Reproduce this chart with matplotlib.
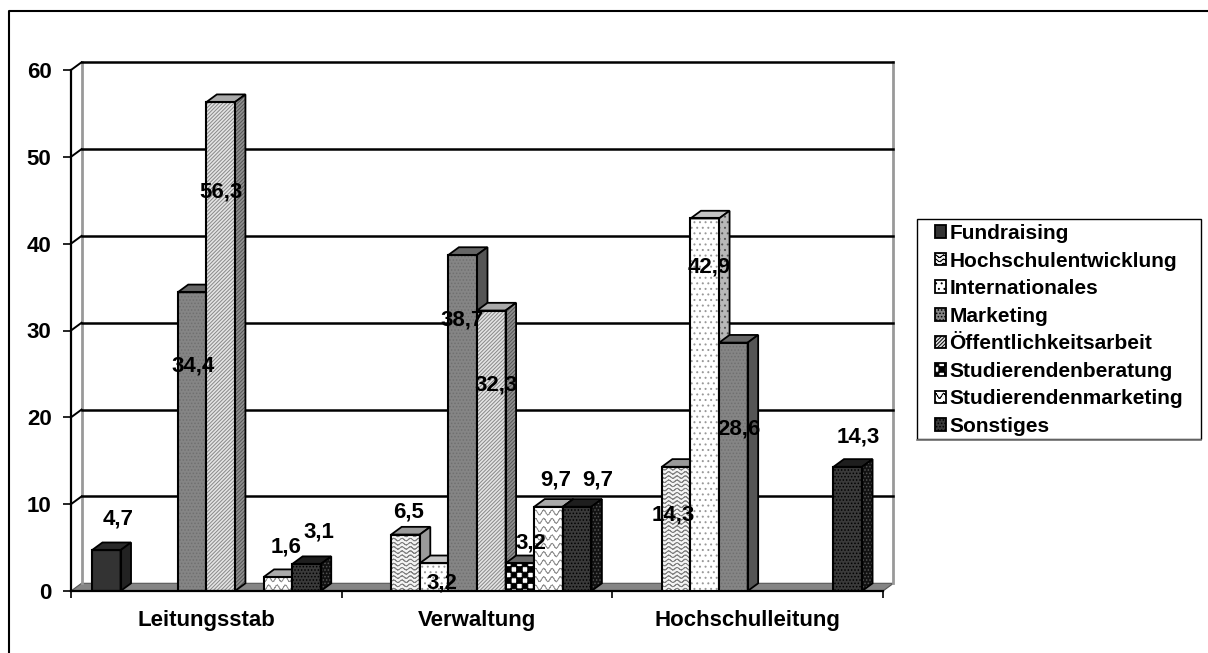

import warnings
import numpy as np
import matplotlib
matplotlib.use('Agg')
import matplotlib.pyplot as plt
import matplotlib.hatch as mhatch
from matplotlib.lines import Line2D
from matplotlib.patches import Patch, Polygon, Rectangle
from matplotlib.path import Path

warnings.filterwarnings('ignore')

W, H = 1208, 653
CATEGORIES = ['Leitungsstab', 'Verwaltung', 'Hochschulleitung']
YTICKS = [0, 10, 20, 30, 40, 50, 60]

Fundraising = [4.7, None, None]
Hochschulentwicklung = [None, 6.5, 14.3]
Internationales = [None, 3.2, 42.9]
Marketing = [34.4, 38.7, 28.6]
Oeffentlichkeitsarbeit = [56.3, 32.3, None]
Studierendenberatung = [None, 3.2, None]
Studierendenmarketing = [1.6, 9.7, None]
Sonstiges = [3.1, 9.7, 14.3]

SERIES_NAMES = ['Fundraising', 'Hochschulentwicklung', 'Internationales', 'Marketing',
                'Öffentlichkeitsarbeit', 'Studierendenberatung', 'Studierendenmarketing', 'Sonstiges']
SERIES_VALUES = [Fundraising, Hochschulentwicklung, Internationales, Marketing,
                 Oeffentlichkeitsarbeit, Studierendenberatung, Studierendenmarketing, Sonstiges]

# 面の色: (前面, 前面ハッチ, 上面, 側面, ハッチ記号)
STYLES = [
    ('#333333', '#333333', '#2a2a2a', '#222222', ''),
    ('#f4f4f4', '#808080', '#999999', '#9a9a9a', '~~~~'),
    ('#ffffff', '#999999', '#c4c4c4', '#b8b8b8', '...'),
    ('#858585', '#707070', '#666666', '#555555', '.....'),
    ('#e4e4e4', '#888888', '#aaaaaa', '#909090', '/////////'),
    ('#ffffff', '#000000', '#666666', '#444444', '@@@'),
    ('#ffffff', '#909090', '#aaaaaa', '#909090', '~~'),
    ('#3a3a3a', '#000000', '#1e1e1e', '#111111', '.....'),
]

# ラベルの位置 (棒の上端中央からのずれ, px)
LABEL_OFFSETS = [
    [(11.5, 31), None, None],
    [None, (3.5, 23), (-2.5, -48)],
    [None, (7.5, -20), (4, -49)],
    [(1.5, -74), (-1, -65), (5.5, -86)],
    [(0, -90), (4.5, -74), None],
    [None, (11, 20), None],
    [(8, 30), (7.5, 27), None],
    [(12.5, 32), (21, 27), (10.5, 30)],
]


class WaveHatch(mhatch.HatchPatternBase):
    # 波線のハッチ (線分に分けないと塗りつぶされる)
    SEGS = 80

    def __init__(self, hatch, density):
        self.rows = hatch.count('~') * density
        self.num_vertices = self.rows * self.SEGS * 2

    def set_vertices_and_codes(self, vertices, codes):
        if self.rows == 0:
            return
        x = np.linspace(0, 1, self.SEGS + 1)
        amp = 0.3 / self.rows
        i = 0
        for r in range(self.rows):
            y = (r + 0.5) / self.rows + amp * np.sin(x * 2 * np.pi * 12)
            for k in range(self.SEGS):
                vertices[i] = (x[k], y[k])
                vertices[i + 1] = (x[k + 1], y[k + 1])
                codes[i] = Path.MOVETO
                codes[i + 1] = Path.LINETO
                i += 2


class CheckerHatch(mhatch.HatchPatternBase):
    def __init__(self, hatch, density):
        self.n = hatch.count('@') * density
        self.cells = [(i, j) for i in range(self.n) for j in range(self.n) if (i + j) % 2 == 0]
        self.num_vertices = len(self.cells) * 5

    def set_vertices_and_codes(self, vertices, codes):
        if self.n == 0:
            return
        s = 1 / self.n
        for c, (i, j) in enumerate(self.cells):
            x, y = i * s, j * s
            vertices[c * 5:c * 5 + 5] = [(x, y), (x + s, y), (x + s, y + s), (x, y + s), (x, y)]
            codes[c * 5:c * 5 + 5] = [Path.MOVETO, Path.LINETO, Path.LINETO, Path.LINETO, Path.CLOSEPOLY]


mhatch._hatch_types.extend([WaveHatch, CheckerHatch])

plt.rcParams['font.family'] = ['Liberation Sans', 'DejaVu Sans']
plt.rcParams['font.weight'] = 'bold'
plt.rcParams['hatch.linewidth'] = 0.7
FS = 16


def fig_line(xs, ys, **kw):
    # 図全体の px 座標で線を引く
    fig.add_artist(Line2D([x / W for x in xs], [1 - y / H for y in ys], transform=fig.transFigure, **kw))


fig = plt.figure(figsize=(W / 100, H / 100), dpi=100)
# 外枠は左と上だけ
fig_line([9, 9, 1208], [653, 11, 11], color='black', lw=1.5)

# 前面の軸: x 71-883 px, y 70-591 px
ax = fig.add_axes([71 / W, 1 - 591 / H, 812 / W, 521 / H])
ax.set_xlim(0, 3)
ax.set_ylim(0, 60)
ax.patch.set_visible(False)
px_x = 3 / 812
px_y = 60 / 521
dx, dy = 10.5 * px_x, 7.7 * px_y

for s in ['top', 'right']:
    ax.spines[s].set_visible(False)
for s in ['left', 'bottom']:
    ax.spines[s].set_linewidth(1.6)
    ax.spines[s].set_zorder(30)
ax.set_yticks(YTICKS)
ax.set_yticklabels([str(v) for v in YTICKS], fontsize=FS, fontweight='bold')
ax.tick_params(axis='y', length=6, width=1.2, pad=8)
ax.set_xticks([0, 1, 2, 3])
ax.set_xticklabels([])
ax.tick_params(axis='x', length=5, width=1.2)
ax.set_xticks([0.5, 1.5, 2.5], minor=True)
ax.set_xticklabels(CATEGORIES, minor=True, fontsize=FS, fontweight='bold')
ax.tick_params(axis='x', which='minor', length=0, pad=14)

# 奥の壁と床
ax.add_patch(Polygon([(0, 0), (3, 0), (3 + dx, dy), (dx, dy)], closed=True, fc='#858585', ec='#555555',
                     lw=0.8, clip_on=False, zorder=1))
ax.plot([dx, dx], [dy, 60 + dy], color='#999999', lw=2, clip_on=False, zorder=1)
ax.plot([3 + dx, 3 + dx], [dy, 60 + dy], color='#999999', lw=2, clip_on=False, zorder=1)
for v in YTICKS[1:]:
    ax.plot([dx, 3 + dx], [v + dy, v + dy], color='black', lw=1.8, clip_on=False, zorder=2)
    ax.plot([0, dx], [v, v + dy], color='black', lw=1.4, clip_on=False, zorder=2)

# 棒
n = len(SERIES_NAMES)
bw = 28.6 * px_x
for c in range(len(CATEGORIES)):
    start = c + 0.5 - n * bw / 2
    for i in range(n):
        val = SERIES_VALUES[i][c]
        if val is None:
            continue
        fc, hc, top, side, hatch = STYLES[i]
        side_hatch = hatch if hatch in ('...', '.....', '/////////') else ''
        x0 = start + i * bw
        z = 5 + c * 20 + i * 2
        ax.bar(x0, val, bw, align='edge', color=fc, hatch=hatch, edgecolor=hc, lw=0, zorder=z)
        ax.add_patch(Rectangle((x0, 0), bw, val, fc='none', ec='black', lw=1.5, zorder=z + 0.5))
        ax.add_patch(Polygon([(x0, val), (x0 + bw, val), (x0 + bw + dx, val + dy), (x0 + dx, val + dy)],
                             closed=True, fc=top, ec='black', lw=1.3, zorder=z, clip_on=False))
        ax.add_patch(Polygon([(x0 + bw, 0), (x0 + bw + dx, dy), (x0 + bw + dx, val + dy), (x0 + bw, val)],
                             closed=True, fc=side, ec='#555555', hatch=side_hatch, lw=0, zorder=z, clip_on=False))
        ax.add_patch(Polygon([(x0 + bw, 0), (x0 + bw + dx, dy), (x0 + bw + dx, val + dy), (x0 + bw, val)],
                             closed=True, fc='none', ec='black', lw=1.3, zorder=z, clip_on=False))
        off = LABEL_OFFSETS[i][c]
        ax.annotate(str(val).replace('.', ','), (x0 + bw / 2, val), xytext=(off[0] * 0.72, off[1] * 0.72),
                    textcoords='offset points', ha='center', va='center', fontsize=FS,
                    fontweight='bold', color='black', zorder=100, annotation_clip=False)

# 凡例: 枠は別に描く (文字の左に余白があるため)
fig.add_artist(Rectangle((917 / W, 1 - 439 / H), 284 / W, 220 / H, transform=fig.transFigure,
                         fc='white', ec='black', lw=1.0))
fig_line([917, 1201], [440, 440], color='#777777', lw=1.2)
handles = [Patch(facecolor=STYLES[i][0] if STYLES[i][4] else '#333333', hatch=STYLES[i][4],
                 edgecolor='black', lw=1.3, label=SERIES_NAMES[i]) for i in range(n)]
leg = fig.legend(handles=handles, loc='upper left', bbox_to_anchor=(935 / W, 1 - 224 / H),
                 bbox_transform=fig.transFigure, borderaxespad=0, prop={'weight': 'bold', 'size': 15},
                 frameon=False, handlelength=0.55, handleheight=0.55, handletextpad=0.15,
                 labelspacing=0.41, borderpad=0)

plt.savefig('out.png', dpi=100)
plt.close()
